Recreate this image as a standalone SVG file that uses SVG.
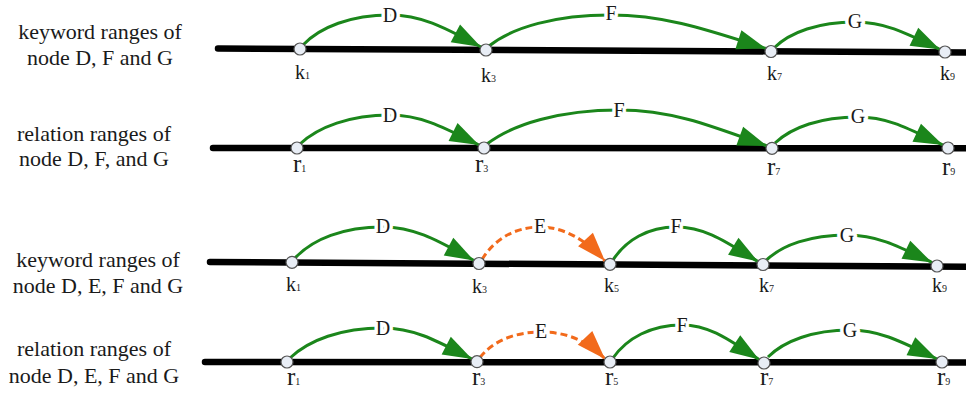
<svg xmlns="http://www.w3.org/2000/svg" width="966" height="395" viewBox="0 0 966 395">
<style>
.t{font-family:"Liberation Serif","Times New Roman",serif;fill:#1a1a1a}
.row{font-size:22px;text-anchor:middle}
.lab{font-size:20px;text-anchor:middle;paint-order:stroke;stroke:#fff;stroke-width:7px;stroke-linejoin:round}
.k{font-size:20px}
.r{font-size:25px}
.sub{font-size:10px}
.axis{stroke:#000;stroke-width:6.5;stroke-linecap:round;fill:none}
.pt{fill:#e8edf5;stroke:#555;stroke-width:1.2}
.g{fill:none;stroke:#1b861b;stroke-width:3}
.o{fill:none;stroke:#f26a1b;stroke-width:3;stroke-dasharray:7 4}
</style>
<defs>
<marker id="ag" markerUnits="userSpaceOnUse" markerWidth="32" markerHeight="24" refX="29" refY="11" orient="auto" overflow="visible"><path d="M0,1 L29,11 L0,21 z" fill="#1b861b"/></marker>
<marker id="ao" markerUnits="userSpaceOnUse" markerWidth="32" markerHeight="24" refX="29" refY="11" orient="auto" overflow="visible"><path d="M0,1 L29,11 L0,21 z" fill="#f26a1b"/></marker>
</defs>
<rect width="966" height="395" fill="#fff"/>
<!-- row titles -->
<g class="t row">
<text x="100" y="39">keyword ranges of</text><text x="100" y="65">node D, F and G</text>
<text x="94" y="141">relation ranges of</text><text x="94" y="166">node D, F, and G</text>
<text x="98" y="267">keyword ranges of</text><text x="98" y="293">node D, E, F and G</text>
<text x="94" y="356">relation ranges of</text><text x="94" y="383">node D, E, F and G</text>
</g>
<!-- axes -->
<g id="axes">
<line class="axis" x1="218" y1="48.5" x2="975" y2="52.5"/>
<line class="axis" x1="213" y1="148" x2="975" y2="148.3"/>
<line class="axis" x1="210" y1="262" x2="975" y2="266.8"/>
<line class="axis" x1="205" y1="362" x2="975" y2="362.5"/>
</g>
<!-- connectors -->
<g id="connectors">
<path class="g" marker-end="url(#ag)" d="M303,45 C320,27 351,15 390,15 C423,15 447,29 481,47"/>
<path class="g" marker-end="url(#ag)" d="M489,46 C513,27 556,15 610,15 C666,15 708,30 766,48.5"/>
<path class="g" marker-end="url(#ag)" d="M774,48 C790,32 819,22 855,22 C886,22 908,34 940,49.5"/>
<path class="g" marker-end="url(#ag)" d="M300,144 C318,127 350,115 390,115 C422,115 446,128.5 479,145"/>
<path class="g" marker-end="url(#ag)" d="M487,144 C513,124 560,110 619,110 C672,110 712,126 767,146"/>
<path class="g" marker-end="url(#ag)" d="M775,143 C792,127 821,117 858,117 C889,117 911,130 943,145"/>
<path class="g" marker-end="url(#ag)" d="M295,258 C313,239 343,227 383,227 C416,227 440,242 474,260.5"/>
<path class="o" marker-end="url(#ao)" d="M482,259.5 C494,240 514,227 540,227 C563,227 585,239 605,261"/>
<path class="g" marker-end="url(#ag)" d="M613,260 C626,240 648,227 676,227 C706,227 727,242.5 758,261.5"/>
<path class="g" marker-end="url(#ag)" d="M766,260.5 C782,245 810.5,235 847,235 C878,235 900,247 932,262.5"/>
<path class="g" marker-end="url(#ag)" d="M290,358 C309,340 341,328 383,328 C415,328 439,342 472,359"/>
<path class="o" marker-end="url(#ao)" d="M480,357.5 C492,342 513.5,332 541,332 C564,332 586,339 605,359"/>
<path class="g" marker-end="url(#ag)" d="M613,358 C627,338 651,325 682,325 C710,325 730,340.5 759,359.5"/>
<path class="g" marker-end="url(#ag)" d="M768,357 C784,341 813,330 850,330 C881,330 904,343 937,359"/>
</g>
<!-- arc labels -->
<g class="t lab">
<text x="390" y="22">D</text><text x="611" y="20">F</text><text x="855" y="28">G</text>
<text x="390" y="122">D</text><text x="619" y="117">F</text><text x="858" y="123">G</text>
<text x="383" y="233">D</text><text x="540" y="233">E</text><text x="676" y="233">F</text><text x="847" y="242">G</text>
<text x="383" y="335">D</text><text x="541" y="338">E</text><text x="682" y="332">F</text><text x="850" y="337">G</text>
</g>
<!-- nodes row 1 -->
<g id="k1a"><circle class="pt" cx="300" cy="49" r="6"/><text class="t k" x="295" y="79">k<tspan class="sub">1</tspan></text></g>
<g id="k3a"><circle class="pt" cx="486" cy="50" r="6"/><text class="t k" x="481" y="82">k<tspan class="sub">3</tspan></text></g>
<g id="k7a"><circle class="pt" cx="771" cy="51.5" r="6"/><text class="t k" x="767" y="80">k<tspan class="sub">7</tspan></text></g>
<g id="k9a"><circle class="pt" cx="945" cy="52" r="6"/><text class="t k" x="940" y="80">k<tspan class="sub">9</tspan></text></g>
<!-- nodes row 2 -->
<g id="r1a"><circle class="pt" cx="297" cy="148" r="6"/><text class="t r" x="293" y="172">r<tspan class="sub">1</tspan></text></g>
<g id="r3a"><circle class="pt" cx="484" cy="148" r="6"/><text class="t r" x="475" y="172">r<tspan class="sub">3</tspan></text></g>
<g id="r7a"><circle class="pt" cx="772" cy="148.3" r="6"/><text class="t r" x="767" y="175">r<tspan class="sub">7</tspan></text></g>
<g id="r9a"><circle class="pt" cx="948" cy="148" r="6"/><text class="t r" x="942" y="175">r<tspan class="sub">9</tspan></text></g>
<!-- nodes row 3 -->
<g id="k1b"><circle class="pt" cx="292" cy="262.3" r="6"/><text class="t k" x="286" y="291">k<tspan class="sub">1</tspan></text></g>
<g id="k3b"><circle class="pt" cx="479" cy="263.5" r="6"/><text class="t k" x="472" y="293">k<tspan class="sub">3</tspan></text></g>
<g id="k5b"><circle class="pt" cx="610" cy="264.3" r="6"/><text class="t k" x="604" y="292">k<tspan class="sub">5</tspan></text></g>
<g id="k7b"><circle class="pt" cx="763" cy="264.5" r="6"/><text class="t k" x="759" y="292">k<tspan class="sub">7</tspan></text></g>
<g id="k9b"><circle class="pt" cx="937" cy="266" r="6"/><text class="t k" x="932" y="292">k<tspan class="sub">9</tspan></text></g>
<!-- nodes row 4 -->
<g id="r1b"><circle class="pt" cx="287" cy="362" r="6"/><text class="t r" x="287" y="385">r<tspan class="sub">1</tspan></text></g>
<g id="r3b"><circle class="pt" cx="477" cy="361.7" r="6"/><text class="t r" x="472" y="385">r<tspan class="sub">3</tspan></text></g>
<g id="r5b"><circle class="pt" cx="610" cy="362" r="6"/><text class="t r" x="605" y="385">r<tspan class="sub">5</tspan></text></g>
<g id="r7b"><circle class="pt" cx="764" cy="363" r="6"/><text class="t r" x="760" y="385">r<tspan class="sub">7</tspan></text></g>
<g id="r9b"><circle class="pt" cx="942" cy="362" r="6"/><text class="t r" x="937" y="385">r<tspan class="sub">9</tspan></text></g>
</svg>
